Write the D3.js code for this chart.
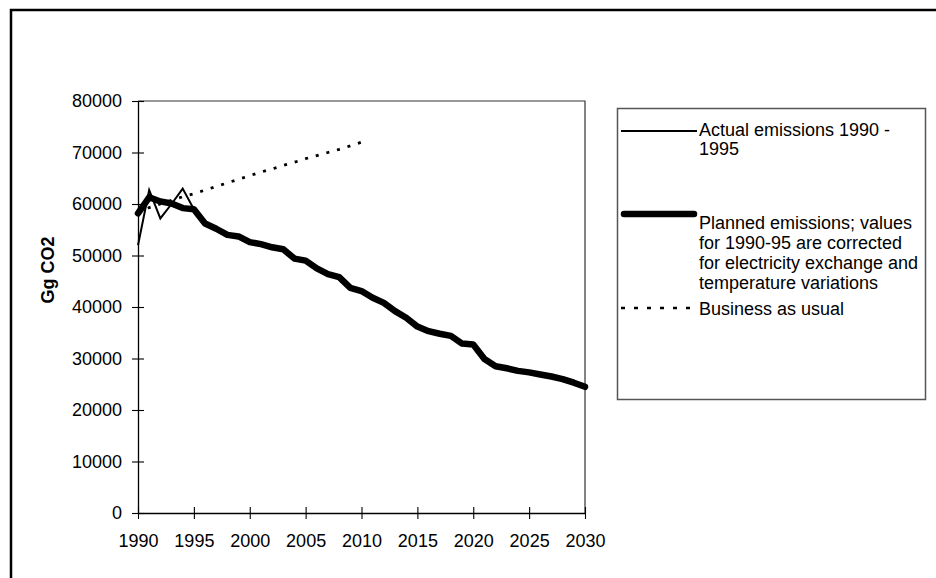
<!DOCTYPE html>
<html>
<head>
<meta charset="utf-8">
<script src="https://cdn.jsdelivr.net/npm/d3@7/dist/d3.min.js"></script>
<style>
  html, body { margin: 0; padding: 0; background: #fff; }
  svg { display: block; font-family: "Liberation Sans", Arial, sans-serif; }
</style>
</head>
<body>
<svg id="chart" width="936" height="578"></svg>
<script>
// ---- data ----
const actualYears = [1990, 1991, 1992, 1993, 1994, 1995];
const actualValues = [52000, 62700, 57200, 60000, 63000, 59000];

const plannedYears = d3.range(1990, 2031);
const plannedValues = [58200, 61300, 60500, 60100, 59200, 59000, 56200, 55200, 54000, 53700,
  52600, 52200, 51600, 51200, 49400, 49000, 47500, 46400, 45800, 43700,
  43100, 41800, 40800, 39200, 37900, 36200, 35300, 34800, 34400, 32900,
  32700, 29900, 28500, 28100, 27600, 27300, 26900, 26500, 26000, 25300, 24500];

const bauYears = d3.range(1990, 2011);
const bauValues = [58200, 59300, 60000, 60700, 61400, 62000, 62700, 63400, 64100, 64800,
  65500, 66200, 66800, 67500, 68100, 68800, 69400, 70000, 70600, 71300, 72000];

const xTicks = [1990, 1995, 2000, 2005, 2010, 2015, 2020, 2025, 2030];
const yTicks = [0, 10000, 20000, 30000, 40000, 50000, 60000, 70000, 80000];
const yLabel = "Gg CO2";
const legendItems = [
  { lines: ["Actual emissions 1990 -", "1995"], key: "actual" },
  { lines: ["Planned emissions; values", "for 1990-95 are corrected", "for electricity exchange and", "temperature variations"], key: "planned" },
  { lines: ["Business as usual"], key: "bau" }
];

// ---- layout ----
const svg = d3.select("#chart");
const plot = { left: 138, right: 585, top: 101, bottom: 513 };

const x = d3.scaleLinear().domain([1990, 2030]).range([plot.left, plot.right]);
const y = d3.scaleLinear().domain([0, 80000]).range([plot.bottom, plot.top]);

// outer border
svg.append("path")
  .attr("d", "M11,580 L11,10 L940,10")
  .attr("fill", "none").attr("stroke", "#000").attr("stroke-width", 2.5);

// plot frame (top and right)
svg.append("path")
  .attr("d", `M${plot.left},${plot.top} L${plot.right},${plot.top} L${plot.right},${plot.bottom}`)
  .attr("fill", "none").attr("stroke", "#333").attr("stroke-width", 1.2);

// axes
const xAxis = d3.axisBottom(x).tickValues(xTicks).tickFormat(d3.format("d"))
  .tickSizeInner(6).tickSizeOuter(0).tickPadding(15);
const gx = svg.append("g").attr("transform", `translate(0,${plot.bottom})`).call(xAxis);
gx.selectAll(".tick line").attr("y1", -6).attr("y2", 6);

const yAxis = d3.axisLeft(y).tickValues(yTicks).tickFormat(d3.format("d"))
  .tickSizeInner(6).tickSizeOuter(0).tickPadding(10);
const gy = svg.append("g").attr("transform", `translate(${plot.left},0)`).call(yAxis);
gy.selectAll(".tick line").attr("x1", -6).attr("x2", 6);

[gx, gy].forEach(g => {
  g.select(".domain").attr("stroke", "#000").attr("stroke-width", 1.3);
  g.selectAll(".tick line").attr("stroke", "#000").attr("stroke-width", 1.1);
  g.selectAll(".tick text").attr("fill", "#000").style("font-size", "18px")
    .style("font-family", "'Liberation Sans', Arial, sans-serif");
});
gx.selectAll(".tick text").attr("dy", "0.71em");

// y label
svg.append("text")
  .attr("transform", `translate(54,270) rotate(-90)`)
  .attr("text-anchor", "middle")
  .style("font-size", "18px").style("font-weight", "bold")
  .text(yLabel);

const line = d3.line().x(d => x(d[0])).y(d => y(d[1]));

// BAU dotted
svg.append("path")
  .datum(bauYears.map((yr, i) => [yr, bauValues[i]]))
  .attr("d", line).attr("fill", "none").attr("stroke", "#000")
  .attr("stroke-width", 2.8).attr("stroke-dasharray", "3,8");

// planned thick
svg.append("path")
  .datum(plannedYears.map((yr, i) => [yr, plannedValues[i]]))
  .attr("d", line).attr("fill", "none").attr("stroke", "#000")
  .attr("stroke-width", 6.5).attr("stroke-linejoin", "round").attr("stroke-linecap", "round");

// actual thin
svg.append("path")
  .datum(actualYears.map((yr, i) => [yr, actualValues[i]]))
  .attr("d", line).attr("fill", "none").attr("stroke", "#000")
  .attr("stroke-width", 2).attr("stroke-linejoin", "miter");

// legend
const lg = svg.append("g");
lg.append("rect").attr("x", 617.5).attr("y", 108.5).attr("width", 308).attr("height", 291)
  .attr("fill", "#fff").attr("stroke", "#555").attr("stroke-width", 1.5);

const legendLineY = { actual: 131, planned: 214, bau: 308 };
const legendBaseline = { actual: 136, planned: 228.5, bau: 315 };
const lineSpacing = { actual: 19, planned: 20.2, bau: 20 };

legendItems.forEach(item => {
  const ly = legendLineY[item.key];
  const l = lg.append("line").attr("x1", 621).attr("x2", 697).attr("y1", ly).attr("y2", ly)
    .attr("stroke", "#000");
  if (item.key === "actual") l.attr("stroke-width", 2);
  if (item.key === "planned") l.attr("stroke-width", 6.5).attr("stroke-linecap", "round").attr("x1", 624).attr("x2", 694);
  if (item.key === "bau") l.attr("stroke-width", 2.5).attr("stroke-dasharray", "4,9");
  const t = lg.append("text").attr("x", 699).attr("y", legendBaseline[item.key])
    .style("font-size", "18px").attr("fill", "#000");
  item.lines.forEach((s, i) => {
    t.append("tspan").attr("x", 699).attr("y", legendBaseline[item.key] + i * lineSpacing[item.key]).text(s);
  });
});
</script>
</body>
</html>
